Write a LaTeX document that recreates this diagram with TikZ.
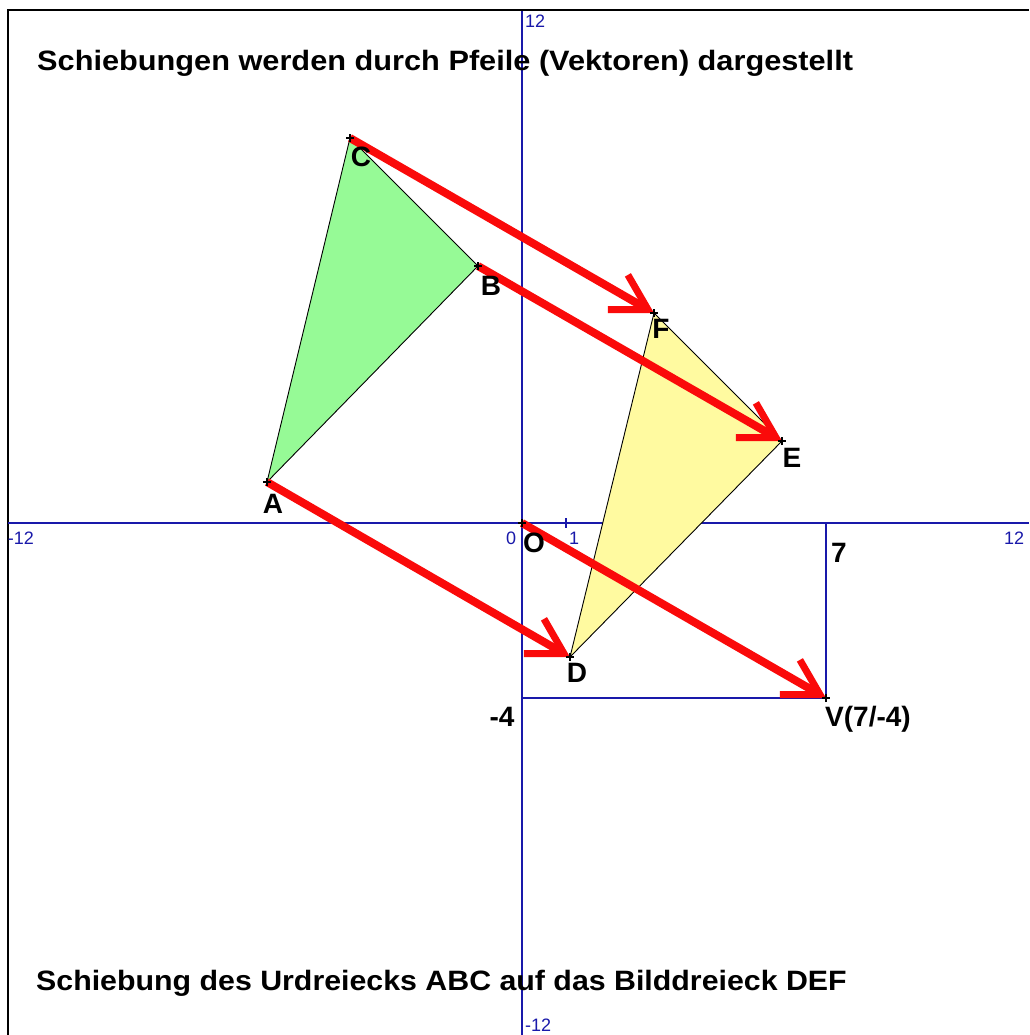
\documentclass[tikz,border=0pt]{standalone}
\usepackage{fontspec}
\setmainfont{Liberation Sans}
\usetikzlibrary{arrows.meta}
\definecolor{axblue}{RGB}{25,25,170}
\definecolor{tgreen}{RGB}{150,250,150}
\definecolor{tyellow}{RGB}{255,250,160}
\definecolor{vred}{RGB}{250,10,10}
\begin{document}
\begin{tikzpicture}[x=1pt,y=-1pt,
  axis/.style={axblue, line width=1.5pt},
  axlab/.style={text=axblue, font=\fontsize{18}{18}\selectfont, inner sep=0pt},
  ptlab/.style={font=\bfseries\fontsize{28}{28}\selectfont, inner sep=0pt},
  heading/.style={font=\bfseries\fontsize{28}{28}\selectfont, inner sep=0pt, anchor=base west},
  tedge/.style={black, line width=0.9pt},
  vec/.style={vred, line width=8pt, -{Straight Barb[angle=60:40pt, line width=7pt]}},
  cross/.style={black, line width=1.5pt}]
\useasboundingbox (0,0) rectangle (1029,1035);
\fill[white] (0,0) rectangle (1029,1035);
% frame
\draw[black, line width=2pt] (7.5,1035) -- (7.5,10) -- (1029,10);
% points
\coordinate (O) at (522,523);
\coordinate (V) at (826,698);
\coordinate (A) at (267,482);
\coordinate (B) at (478,266);
\coordinate (C) at (350,138);
\coordinate (D) at (570,657);
\coordinate (E) at (782,441);
\coordinate (F) at (654,313);
\coordinate (Xl) at (8,523);
\coordinate (Xr) at (1029,523);
\coordinate (Yt) at (522,11);
\coordinate (Yb) at (522,1035);
\coordinate (Vx) at (826,523);
\coordinate (Vy) at (522,698);
\coordinate (T1a) at (566,518);
\coordinate (T1b) at (566,528);
% axes
\draw[axis] (Xl) -- (Xr);
\draw[axis] (Yt) -- (Yb);
\draw[axis] (T1a) -- (T1b);
\draw[axis] (Vy) -- (V) -- (Vx);
% axis labels
\node[axlab, anchor=west] (l12t) at (525,21) {12};
\node[axlab] (l12l) at (21,538) {-12};
\node[axlab] (l12r) at (1014,538) {12};
\node[axlab] (l0) at (511,538) {0};
\node[axlab] (l1) at (574,538) {1};
\node[axlab, anchor=west] (l12b) at (525,1025) {-12};
% triangles
\filldraw[tedge, fill=tgreen] (A) -- (B) -- (C) -- cycle;
\filldraw[tedge, fill=tyellow] (D) -- (E) -- (F) -- cycle;
% vectors
\draw[vec] (C) -- (F);
\draw[vec] (B) -- (E);
\draw[vec] (A) -- (D);
\draw[vec] (O) -- (V);
% point marks
\foreach \p in {A,B,C,D,E,F,O,V}{
  \draw[cross] ([xshift=-4pt]\p) -- ([xshift=4pt]\p);
  \draw[cross] ([yshift=-4pt]\p) -- ([yshift=4pt]\p);
}
% point labels
\node[ptlab] (lA) at (273,504) {A};
\node[ptlab] (lB) at (491,286) {B};
\node[ptlab] (lC) at (361,157) {C};
\node[ptlab] (lD) at (577,673) {D};
\node[ptlab] (lE) at (792,458) {E};
\node[ptlab] (lF) at (661,329) {F};
\node[ptlab] (lO) at (534,543) {O};
\node[ptlab] (l7) at (839,553) {7};
\node[ptlab] (lm4) at (502,717) {-4};
\node[ptlab, anchor=base west] (lV) at (825,726) {V(7/-4)};
% headings
\node[heading] (title) at (37,71) {\scalebox{1.097}[1]{Schiebungen werden durch Pfeile (Vektoren) dargestellt}};
\node[heading] (foot) at (36,990) {\scalebox{1.083}[1]{Schiebung des Urdreiecks ABC auf das Bilddreieck DEF}};
\end{tikzpicture}
\end{document}
